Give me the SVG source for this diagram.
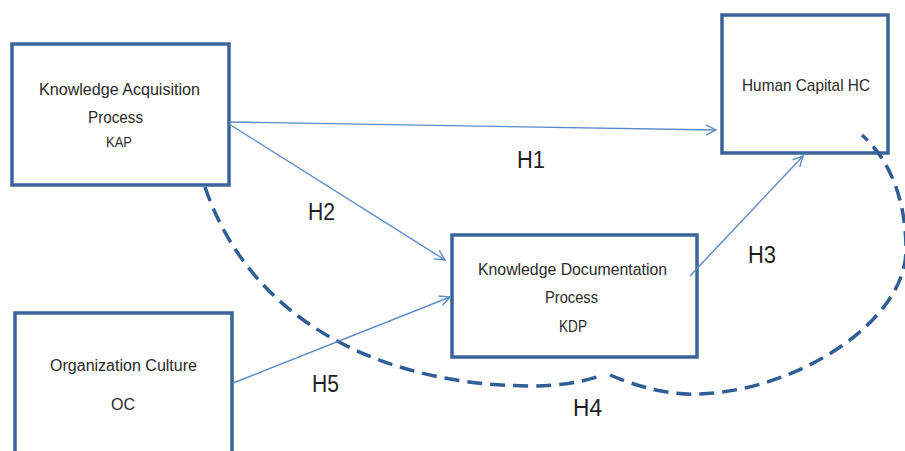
<svg xmlns="http://www.w3.org/2000/svg" width="905" height="451" viewBox="0 0 905 451">
<style>
.box{fill:#fff;stroke:#3a6598;stroke-width:3.5}
.t{font-family:"Liberation Sans",Arial,sans-serif;fill:#2a2a2a;font-size:16px}
.lbl{font-family:"Liberation Sans",Arial,sans-serif;fill:#1e1e1e;font-size:23px}
.arr{fill:none;stroke:#5b8ac6;stroke-width:1.4;marker-end:url(#ah)}
.dash{fill:none;stroke:#2f5e96;stroke-width:3.5;stroke-dasharray:15 8}
</style>
<defs>
<marker id="ah" viewBox="0 0 12 12" refX="11" refY="6" markerWidth="12" markerHeight="12" markerUnits="userSpaceOnUse" orient="auto">
<path d="M1,1 L11,6 L1,11" fill="none" stroke="#5b8ac6" stroke-width="1.4"/>
</marker>
</defs>
<rect width="905" height="451" fill="#fff"/>
<g id="KAP">
<rect class="box" x="12" y="44" width="217" height="141"/>
<text class="t" x="39" y="95" textLength="161" lengthAdjust="spacingAndGlyphs">Knowledge  Acquisition</text>
<text class="t" x="88" y="123" textLength="55" lengthAdjust="spacingAndGlyphs">Process</text>
<text class="t" x="106" y="147" textLength="26" lengthAdjust="spacingAndGlyphs" style="font-size:14px">KAP</text>
</g>
<g id="HC">
<rect class="box" x="722" y="15" width="166" height="138"/>
<text class="t" x="742" y="91" textLength="128" lengthAdjust="spacingAndGlyphs" style="font-size:17px">Human Capital HC</text>
</g>
<g id="KDP">
<rect class="box" x="452" y="235" width="245" height="122"/>
<text class="t" x="478" y="275" textLength="189" lengthAdjust="spacingAndGlyphs">Knowledge Documentation</text>
<text class="t" x="545" y="303" textLength="53" lengthAdjust="spacingAndGlyphs">Process</text>
<text class="t" x="559" y="332" textLength="28" lengthAdjust="spacingAndGlyphs">KDP</text>
</g>
<g id="OC">
<rect class="box" x="15" y="313" width="217" height="160"/>
<text class="t" x="50" y="371" textLength="147" lengthAdjust="spacingAndGlyphs">Organization Culture</text>
<text class="t" x="111" y="410" textLength="24" lengthAdjust="spacingAndGlyphs">OC</text>
</g>
<g id="connectors">
<path class="dash" d="M205,187 C250,320 380,385 530,386 Q570,386 600,376"/>
<path class="dash" d="M610,375 C650,392 680,395 700,394 C800,390 906,320 906,250 C906,200 890,160 862,135"/>
<line class="arr" x1="229" y1="122" x2="716" y2="130"/>
<line class="arr" x1="229" y1="124" x2="445" y2="260"/>
<line class="arr" x1="233" y1="383" x2="450" y2="297"/>
<line class="arr" x1="690" y1="276" x2="803" y2="156"/>
</g>
<g id="labels">
<text class="lbl" x="517" y="168" textLength="28" lengthAdjust="spacingAndGlyphs">H1</text>
<text class="lbl" x="308" y="220" textLength="27" lengthAdjust="spacingAndGlyphs">H2</text>
<text class="lbl" x="748" y="263" textLength="28" lengthAdjust="spacingAndGlyphs">H3</text>
<text class="lbl" x="573" y="416" textLength="29" lengthAdjust="spacingAndGlyphs">H4</text>
<text class="lbl" x="312" y="392" textLength="27" lengthAdjust="spacingAndGlyphs">H5</text>
</g>
</svg>
